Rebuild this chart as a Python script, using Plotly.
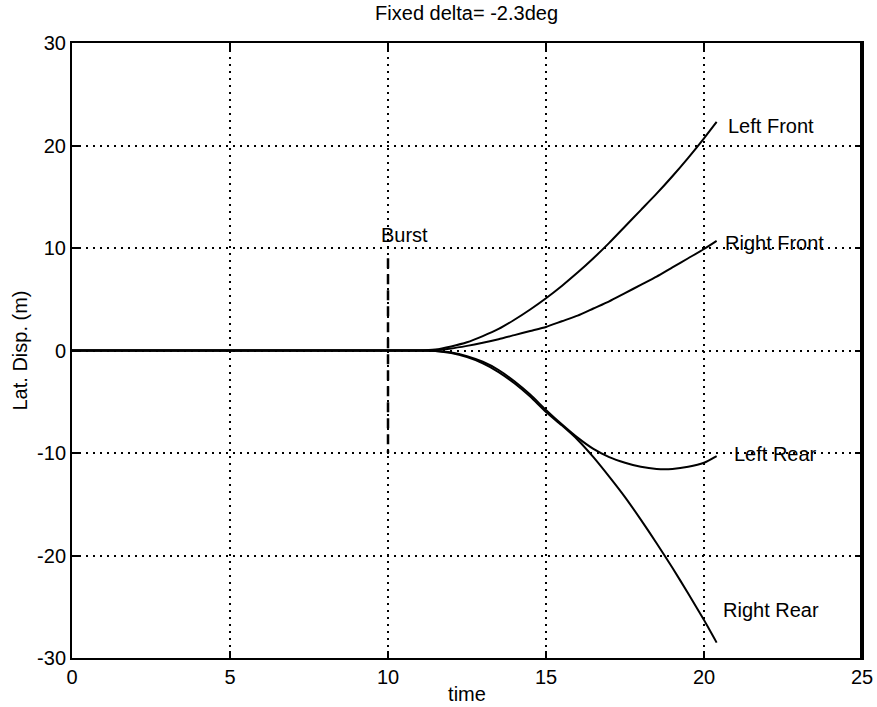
import plotly.graph_objects as go

# Lateral displacement of each wheel after a tyre burst at t = 10 s
time = [0, 10, 11, 11.5, 12, 12.5, 13, 13.5, 14, 14.5, 15, 15.5, 16, 16.5,
        17, 17.5, 18, 18.5, 19, 19.5, 20, 20.4]
left_front = [0, 0, 0, 0.1, 0.4, 0.8, 1.4, 2.1, 3.0, 4.0, 5.1, 6.3, 7.6, 9.0,
              10.5, 12.1, 13.7, 15.3, 17.0, 18.8, 20.7, 22.3]
right_front = [0, 0, 0, 0.05, 0.2, 0.45, 0.75, 1.1, 1.5, 1.9, 2.3, 2.85, 3.4, 4.1,
               4.8, 5.6, 6.4, 7.2, 8.1, 9.0, 9.9, 10.7]
left_rear = [0, 0, 0, -0.05, -0.2, -0.55, -1.1, -1.9, -3.0, -4.3, -5.8, -7.2, -8.5, -9.6,
             -10.4, -10.95, -11.35, -11.55, -11.55, -11.35, -10.95, -10.3]
right_rear = [0, 0, 0, -0.05, -0.25, -0.65, -1.25, -2.1, -3.2, -4.5, -6.0, -7.3, -8.7, -10.4,
              -12.3, -14.3, -16.5, -18.8, -21.2, -23.7, -26.3, -28.5]

series = {"Left Front": left_front, "Right Front": right_front,
          "Left Rear": left_rear, "Right Rear": right_rear}

# Label anchor positions (time, displacement)
label_x = [20.7, 20.6, 20.9, 20.55]
label_y = [21.9, 10.5, -10.1, -25.3]

burst_time = 10
burst_span = [9.0, -10.0]

x_ticks = [0, 5, 10, 15, 20, 25]
y_ticks = [-30, -20, -10, 0, 10, 20, 30]

FONT = "Liberation Sans, Arial, Helvetica, sans-serif"
TXT = dict(family=FONT, size=20, color="black")

fig = go.Figure()
for name, ys in series.items():
    fig.add_trace(go.Scatter(x=time, y=ys, mode="lines", name=name,
                             line=dict(color="black", width=2, shape="spline", smoothing=0.6),
                             showlegend=False))

fig.add_trace(go.Scatter(x=[burst_time, burst_time], y=burst_span, mode="lines",
                         line=dict(color="black", width=2.5, dash="10px,6px"),
                         showlegend=False))

for (name, lx, ly) in zip(series.keys(), label_x, label_y):
    fig.add_annotation(x=lx, y=ly, text=name, showarrow=False, xanchor="left",
                       yanchor="middle", font=TXT)

fig.add_annotation(x=9.7, y=11.3, text="Burst", showarrow=False, xanchor="left",
                   yanchor="middle", font=TXT)

axis_common = dict(
    showline=True, linecolor="black", linewidth=2, mirror="ticks",
    ticks="inside", ticklen=7, tickwidth=2, tickcolor="black",
    showgrid=True, gridcolor="black", griddash="2px,5px", gridwidth=1.5,
    zeroline=False, tickfont=TXT, automargin=False,
)

fig.update_xaxes(range=[0, 25], tickvals=x_ticks, ticktext=[str(v) for v in x_ticks],
                 title=dict(text="time", font=TXT, standoff=0),
                 **axis_common)
fig.update_yaxes(range=[-30, 30], tickvals=y_ticks, ticktext=[str(v) for v in y_ticks],
                 title=dict(text="Lat. Disp. (m)", font=TXT, standoff=4),
                 **axis_common)

# heavier right-hand frame edge
fig.add_shape(type="line", xref="paper", yref="paper", x0=1, x1=1, y0=0, y1=1,
              line=dict(color="black", width=4))

fig.update_layout(
    width=877, height=707,
    margin=dict(l=72, r=15, t=43, b=49),
    paper_bgcolor="white", plot_bgcolor="white",
    title=dict(text="Fixed delta= -2.3deg", x=0.532, xanchor="center", y=0.981,
               yanchor="middle", font=dict(family=FONT, size=20, color="black")),
)

fig.write_html("out.html")
